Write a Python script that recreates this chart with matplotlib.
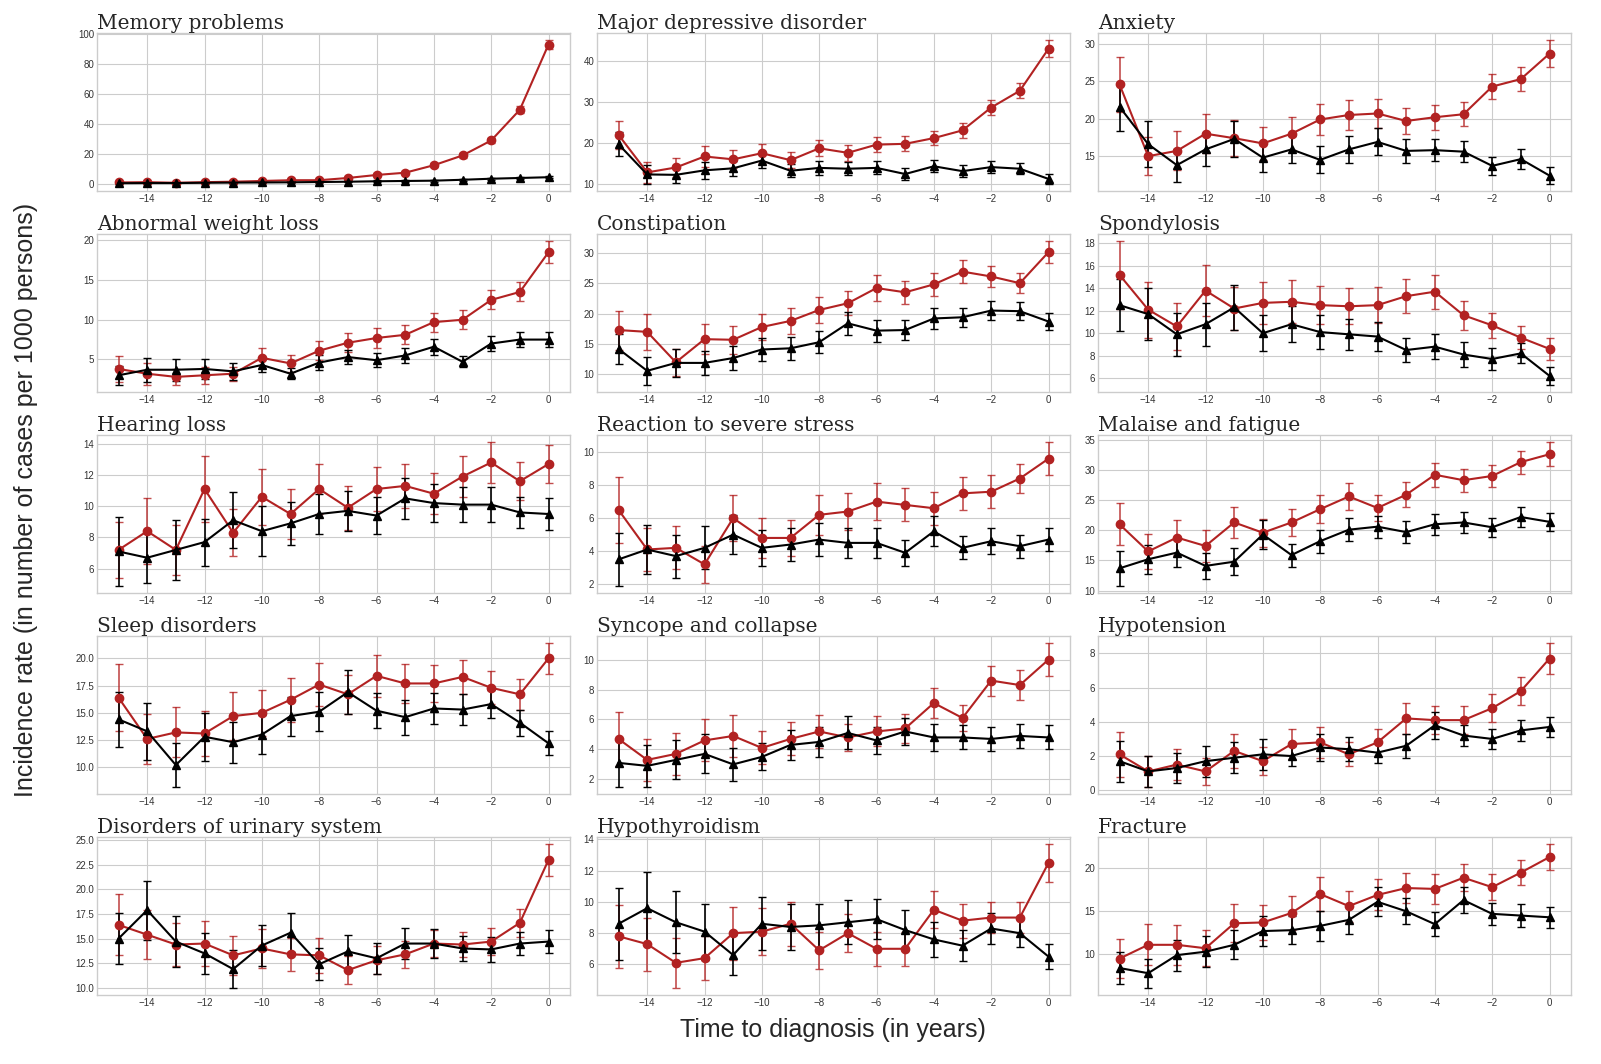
import numpy as np
import matplotlib
matplotlib.use("Agg")
import matplotlib.pyplot as plt
from matplotlib.ticker import MultipleLocator, FormatStrFormatter

years = list(range(-15, 1))

# red = cases, black = controls; *_err = half width of the error bar
memory_case = [1.0, 1.2, 0.8, 1.2, 1.5, 2.0, 2.5, 2.5, 4.0, 6.0, 7.5, 12.5, 19.0, 29.0, 49.5, 93.0]
memory_case_err = [0.6, 0.6, 0.5, 0.6, 0.6, 0.7, 0.7, 0.7, 0.9, 1.0, 1.1, 1.3, 1.5, 1.8, 2.2, 2.9]
memory_ctrl = [0.5, 0.6, 0.6, 0.8, 0.9, 1.0, 1.1, 1.3, 1.5, 1.8, 2.0, 2.2, 2.8, 3.5, 4.0, 4.5]
memory_ctrl_err = [0.4, 0.4, 0.4, 0.4, 0.4, 0.5, 0.5, 0.5, 0.5, 0.6, 0.6, 0.6, 0.6, 0.7, 0.7, 0.7]

mdd_case = [22.0, 12.8, 14.0, 16.7, 16.0, 17.5, 15.8, 18.7, 17.6, 19.6, 19.8, 21.2, 23.1, 28.7, 32.8, 43.1]
mdd_case_err = [3.5, 2.5, 2.3, 2.5, 2.2, 2.3, 2.0, 2.0, 2.0, 1.9, 1.8, 1.8, 1.8, 1.8, 1.8, 2.1]
mdd_ctrl = [19.7, 12.3, 12.2, 13.3, 13.8, 15.7, 13.2, 13.9, 13.7, 13.9, 12.4, 14.3, 13.1, 14.1, 13.7, 11.2]
mdd_ctrl_err = [3.0, 2.3, 2.0, 2.0, 1.8, 1.9, 1.6, 1.8, 1.6, 1.6, 1.4, 1.5, 1.4, 1.4, 1.3, 1.2]

anx_case = [24.6, 15.0, 15.7, 18.0, 17.4, 16.7, 18.0, 19.9, 20.5, 20.7, 19.7, 20.2, 20.6, 24.3, 25.3, 28.7]
anx_case_err = [3.7, 2.5, 2.6, 2.6, 2.4, 2.2, 2.2, 2.1, 2.0, 1.9, 1.8, 1.7, 1.6, 1.7, 1.6, 1.8]
anx_ctrl = [21.6, 16.6, 13.8, 15.9, 17.3, 14.8, 15.9, 14.5, 15.9, 16.9, 15.7, 15.8, 15.6, 13.7, 14.6, 12.4]
anx_ctrl_err = [3.2, 3.1, 2.2, 2.2, 2.4, 1.9, 1.8, 1.8, 1.8, 1.8, 1.6, 1.5, 1.4, 1.2, 1.3, 1.1]

awl_case = [3.8, 3.2, 2.8, 3.0, 3.2, 5.2, 4.5, 6.1, 7.1, 7.7, 8.1, 9.7, 10.0, 12.5, 13.5, 18.5]
awl_case_err = [1.6, 1.4, 1.0, 1.1, 0.9, 1.3, 1.1, 1.2, 1.2, 1.2, 1.2, 1.2, 1.2, 1.2, 1.2, 1.4]
awl_ctrl = [3.0, 3.7, 3.7, 3.8, 3.5, 4.3, 3.2, 4.6, 5.3, 4.9, 5.5, 6.6, 4.7, 7.0, 7.5, 7.5]
awl_ctrl_err = [1.2, 1.5, 1.4, 1.3, 1.1, 0.9, 0.7, 0.9, 0.9, 0.9, 0.9, 1.0, 0.7, 0.9, 0.9, 0.9]

const_case = [17.3, 17.0, 12.0, 15.8, 15.7, 17.8, 18.8, 20.6, 21.7, 24.2, 23.5, 24.8, 26.9, 26.1, 25.0, 30.1]
const_case_err = [3.2, 2.9, 2.2, 2.5, 2.3, 2.2, 2.1, 2.1, 2.0, 2.1, 1.9, 1.9, 1.9, 1.8, 1.6, 1.8]
const_ctrl = [14.2, 10.6, 11.9, 11.9, 12.7, 14.1, 14.3, 15.3, 18.4, 17.2, 17.3, 19.2, 19.4, 20.5, 20.4, 18.7]
const_ctrl_err = [2.4, 2.3, 2.3, 2.0, 1.9, 1.9, 1.9, 1.8, 1.9, 1.8, 1.7, 1.7, 1.6, 1.6, 1.5, 1.4]

spond_case = [15.2, 12.1, 10.6, 13.8, 12.2, 12.7, 12.8, 12.5, 12.4, 12.5, 13.3, 13.7, 11.6, 10.7, 9.6, 8.6]
spond_case_err = [3.0, 2.5, 2.1, 2.3, 1.9, 1.9, 1.9, 1.7, 1.6, 1.6, 1.5, 1.5, 1.3, 1.1, 1.0, 1.0]
spond_ctrl = [12.5, 11.7, 9.9, 10.8, 12.3, 10.0, 10.8, 10.1, 9.9, 9.7, 8.5, 8.8, 8.1, 7.7, 8.2, 6.2]
spond_ctrl_err = [2.3, 2.3, 1.9, 1.9, 2.0, 1.6, 1.6, 1.5, 1.4, 1.3, 1.1, 1.1, 1.1, 1.0, 0.9, 0.8]

hear_case = [7.2, 8.4, 7.2, 11.1, 8.3, 10.6, 9.5, 11.1, 9.9, 11.1, 11.3, 10.8, 11.9, 12.8, 11.6, 12.7]
hear_case_err = [1.8, 2.1, 1.6, 2.1, 1.5, 1.8, 1.6, 1.6, 1.4, 1.4, 1.4, 1.3, 1.3, 1.3, 1.2, 1.2]
hear_ctrl = [7.1, 6.7, 7.2, 7.7, 9.1, 8.4, 8.9, 9.5, 9.7, 9.4, 10.5, 10.2, 10.1, 10.1, 9.6, 9.5]
hear_ctrl_err = [2.2, 1.6, 1.9, 1.5, 1.8, 1.6, 1.4, 1.3, 1.3, 1.2, 1.3, 1.2, 1.1, 1.1, 1.0, 1.0]

stress_case = [6.5, 4.1, 4.2, 3.2, 6.0, 4.8, 4.8, 6.2, 6.4, 7.0, 6.8, 6.6, 7.5, 7.6, 8.4, 9.6]
stress_case_err = [2.0, 1.3, 1.3, 1.1, 1.4, 1.2, 1.1, 1.2, 1.1, 1.1, 1.0, 1.0, 1.0, 1.0, 0.9, 1.0]
stress_ctrl = [3.5, 4.1, 3.7, 4.2, 5.0, 4.2, 4.4, 4.7, 4.5, 4.5, 3.9, 5.2, 4.2, 4.6, 4.3, 4.7]
stress_ctrl_err = [1.6, 1.5, 1.3, 1.3, 1.2, 1.1, 1.0, 1.0, 0.9, 0.9, 0.8, 0.9, 0.7, 0.8, 0.7, 0.7]

malaise_case = [21.0, 16.5, 18.8, 17.4, 21.3, 19.6, 21.3, 23.5, 25.6, 23.7, 25.9, 29.2, 28.3, 29.0, 31.3, 32.6]
malaise_case_err = [3.5, 2.9, 2.9, 2.6, 2.5, 2.3, 2.3, 2.3, 2.2, 2.1, 2.1, 2.0, 1.9, 1.9, 1.9, 2.0]
malaise_ctrl = [13.7, 15.2, 16.3, 14.1, 14.8, 19.3, 15.9, 18.2, 20.1, 20.6, 19.7, 21.0, 21.3, 20.5, 22.2, 21.4]
malaise_ctrl_err = [2.9, 2.4, 2.3, 2.2, 2.2, 2.4, 1.9, 1.9, 1.9, 1.8, 1.8, 1.7, 1.7, 1.6, 1.6, 1.5]

sleep_case = [16.4, 12.6, 13.2, 13.1, 14.7, 15.0, 16.2, 17.6, 16.7, 18.4, 17.7, 17.7, 18.3, 17.3, 16.7, 20.0]
sleep_case_err = [3.1, 2.3, 2.3, 2.1, 2.2, 2.1, 2.0, 2.0, 1.8, 1.9, 1.8, 1.7, 1.6, 1.5, 1.4, 1.4]
sleep_ctrl = [14.4, 13.3, 10.2, 12.8, 12.3, 13.0, 14.7, 15.1, 16.9, 15.2, 14.6, 15.4, 15.3, 15.8, 14.1, 12.2]
sleep_ctrl_err = [2.5, 2.6, 2.0, 2.2, 1.9, 1.8, 1.8, 1.8, 2.0, 1.6, 1.6, 1.4, 1.4, 1.3, 1.2, 1.1]

sync_case = [4.7, 3.3, 3.7, 4.6, 4.9, 4.1, 4.7, 5.2, 4.8, 5.2, 5.4, 7.1, 6.1, 8.6, 8.3, 10.0]
sync_case_err = [1.8, 1.4, 1.4, 1.4, 1.4, 1.1, 1.1, 1.1, 0.9, 1.0, 1.0, 1.0, 0.9, 1.0, 1.0, 1.1]
sync_ctrl = [3.1, 2.9, 3.3, 3.7, 3.0, 3.5, 4.3, 4.5, 5.1, 4.6, 5.2, 4.8, 4.8, 4.7, 4.9, 4.8]
sync_ctrl_err = [1.6, 1.4, 1.3, 1.3, 1.1, 0.9, 1.0, 1.0, 1.1, 0.9, 0.9, 0.9, 0.8, 0.8, 0.8, 0.8]

hypo_case = [2.1, 1.1, 1.5, 1.1, 2.3, 1.7, 2.7, 2.8, 2.1, 2.8, 4.2, 4.1, 4.1, 4.8, 5.8, 7.7]
hypo_case_err = [1.3, 0.9, 0.9, 0.8, 1.0, 0.8, 0.9, 0.9, 0.7, 0.8, 0.9, 0.8, 0.8, 0.8, 0.8, 0.9]
hypo_ctrl = [1.7, 1.1, 1.3, 1.7, 1.9, 2.1, 2.0, 2.5, 2.4, 2.2, 2.6, 3.8, 3.2, 3.0, 3.5, 3.7]
hypo_ctrl_err = [1.2, 0.9, 0.9, 0.9, 0.9, 0.9, 0.6, 0.8, 0.7, 0.6, 0.7, 0.8, 0.6, 0.6, 0.6, 0.6]

urin_case = [16.4, 15.4, 14.4, 14.5, 13.3, 14.0, 13.4, 13.3, 11.8, 12.8, 13.4, 14.5, 14.4, 14.7, 16.6, 23.0]
urin_case_err = [3.1, 2.5, 2.2, 2.3, 2.0, 2.0, 1.7, 1.8, 1.4, 1.4, 1.4, 1.4, 1.3, 1.4, 1.4, 1.6]
urin_ctrl = [15.0, 17.9, 14.7, 13.5, 11.9, 14.3, 15.6, 12.4, 13.7, 13.0, 14.5, 14.5, 14.0, 13.9, 14.5, 14.7]
urin_ctrl_err = [2.6, 3.0, 2.6, 2.1, 1.9, 2.1, 2.0, 1.6, 1.7, 1.6, 1.6, 1.5, 1.3, 1.3, 1.2, 1.2]

thyr_case = [7.8, 7.3, 6.1, 6.4, 8.0, 8.1, 8.6, 6.9, 8.0, 7.0, 7.0, 9.5, 8.8, 9.0, 9.0, 12.5]
thyr_case_err = [2.0, 1.7, 1.6, 1.4, 1.7, 1.5, 1.4, 1.2, 1.2, 1.1, 1.1, 1.2, 1.1, 1.0, 1.0, 1.2]
thyr_ctrl = [8.6, 9.6, 8.7, 8.1, 6.6, 8.6, 8.4, 8.5, 8.7, 8.9, 8.2, 7.6, 7.2, 8.3, 8.0, 6.5]
thyr_ctrl_err = [2.3, 2.3, 2.0, 1.8, 1.3, 1.7, 1.5, 1.4, 1.4, 1.3, 1.3, 1.1, 1.0, 1.0, 0.9, 0.8]

frac_case = [9.5, 11.1, 11.1, 10.7, 13.6, 13.7, 14.8, 17.0, 15.6, 16.9, 17.7, 17.6, 18.9, 17.8, 19.5, 21.3]
frac_case_err = [2.3, 2.4, 2.3, 2.1, 2.2, 2.0, 2.0, 2.0, 1.8, 1.8, 1.7, 1.7, 1.6, 1.5, 1.5, 1.5]
frac_ctrl = [8.4, 7.8, 9.9, 10.3, 11.1, 12.7, 12.8, 13.3, 14.0, 16.1, 15.0, 13.5, 16.3, 14.7, 14.5, 14.3]
frac_ctrl_err = [1.9, 1.7, 1.8, 1.8, 1.7, 1.7, 1.6, 1.7, 1.6, 1.7, 1.5, 1.4, 1.5, 1.3, 1.3, 1.2]

titles = ["Memory problems", "Major depressive disorder", "Anxiety",
          "Abnormal weight loss", "Constipation", "Spondylosis",
          "Hearing loss", "Reaction to severe stress", "Malaise and fatigue",
          "Sleep disorders", "Syncope and collapse", "Hypotension",
          "Disorders of urinary system", "Hypothyroidism", "Fracture"]
y_steps = [20, 10, 5, 5, 5, 2, 2, 2, 5, 2.5, 2, 2, 2.5, 2, 5]

series = [
    (memory_case, memory_case_err, memory_ctrl, memory_ctrl_err),
    (mdd_case, mdd_case_err, mdd_ctrl, mdd_ctrl_err),
    (anx_case, anx_case_err, anx_ctrl, anx_ctrl_err),
    (awl_case, awl_case_err, awl_ctrl, awl_ctrl_err),
    (const_case, const_case_err, const_ctrl, const_ctrl_err),
    (spond_case, spond_case_err, spond_ctrl, spond_ctrl_err),
    (hear_case, hear_case_err, hear_ctrl, hear_ctrl_err),
    (stress_case, stress_case_err, stress_ctrl, stress_ctrl_err),
    (malaise_case, malaise_case_err, malaise_ctrl, malaise_ctrl_err),
    (sleep_case, sleep_case_err, sleep_ctrl, sleep_ctrl_err),
    (sync_case, sync_case_err, sync_ctrl, sync_ctrl_err),
    (hypo_case, hypo_case_err, hypo_ctrl, hypo_ctrl_err),
    (urin_case, urin_case_err, urin_ctrl, urin_ctrl_err),
    (thyr_case, thyr_case_err, thyr_ctrl, thyr_ctrl_err),
    (frac_case, frac_case_err, frac_ctrl, frac_ctrl_err),
]

plt.style.use("seaborn-v0_8-whitegrid")

fig = plt.figure(figsize=(16.01, 10.64), dpi=100)
W, H = 1601, 1064
lefts = [97, 597, 1098]
width = 473
tops = [33, 234, 435, 636, 837]
height = 158

for i, (title, step, (case, case_err, ctrl, ctrl_err)) in enumerate(zip(titles, y_steps, series)):
    r, c = divmod(i, 3)
    ax = fig.add_axes([lefts[c] / W, 1 - (tops[r] + height) / H, width / W, height / H])
    ax.errorbar(years, case, yerr=case_err, color="#b22222", marker="o", markersize=6,
                linewidth=1.5, capsize=3, elinewidth=1.2, ecolor=(0.70, 0.13, 0.13, 0.8))
    ax.errorbar(years, ctrl, yerr=ctrl_err, color="black", marker="^", markersize=6,
                linewidth=1.5, capsize=3, elinewidth=1.2)
    ax.set_xticks(range(-14, 1, 2))
    ax.yaxis.set_major_locator(MultipleLocator(step))
    if step == 2.5:
        ax.yaxis.set_major_formatter(FormatStrFormatter("%.1f"))
    ax.tick_params(labelsize=7, colors="#333333", pad=2)
    ax.set_title(title, loc="left", fontfamily="DejaVu Serif", fontsize=14.5, pad=3)
    for s in ax.spines.values():
        s.set_edgecolor("#cccccc")

fig.text(0.016, 0.53, "Incidence rate (in number of cases per 1000 persons)",
         rotation=90, va="center", ha="center", fontsize=18)
fig.text(0.52, 0.032, "Time to diagnosis (in years)", ha="center", va="center", fontsize=18)

fig.savefig("out.png", dpi=100)
